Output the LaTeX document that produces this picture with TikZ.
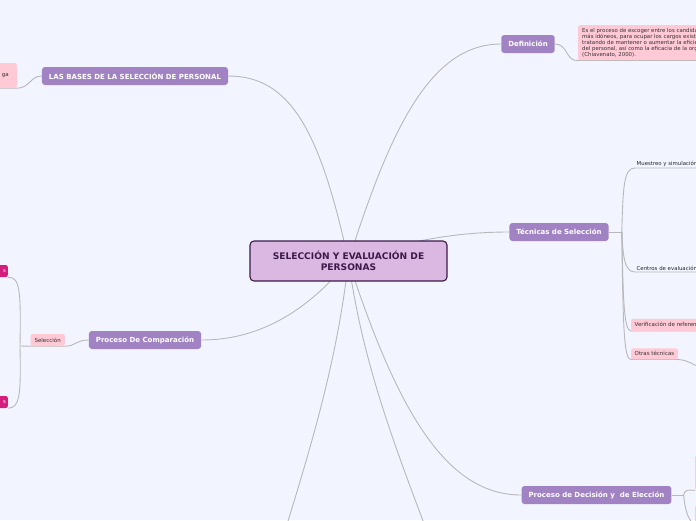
\documentclass[tikz,border=0pt]{standalone}
\usepackage{fontspec}
\setmainfont{DejaVu Sans}
\usetikzlibrary{positioning, backgrounds}

\definecolor{canvas}{RGB}{242,245,255}
\definecolor{topicfill}{RGB}{161,131,196}
\definecolor{rootfill}{RGB}{218,184,226}
\definecolor{rootline}{RGB}{60,26,74}
\definecolor{notefill}{RGB}{255,201,214}
\definecolor{tagfill}{RGB}{212,30,125}
\definecolor{wire}{RGB}{184,184,184}

\begin{document}
\begin{tikzpicture}[
    x=1pt, y=-1pt,
    root/.style  = {draw=rootline, line width=1.1pt, fill=rootfill, rounded corners=4pt,
                    align=center, text=rootline, font=\fontsize{9.1}{11}\selectfont\bfseries,
                    minimum width=197pt, minimum height=40pt},
    topic/.style = {fill=topicfill, rounded corners=3pt, text=white,
                    font=\fontsize{7}{8}\selectfont\bfseries, minimum height=18pt, inner xsep=7pt},
    note/.style  = {fill=notefill, rounded corners=2pt, text=black!80,
                    font=\fontsize{5.5}{6.5}\selectfont, minimum height=12pt, inner xsep=3.5pt, inner ysep=1pt},
    tag/.style   = {fill=tagfill, rounded corners=2pt, text=white,
                    font=\fontsize{5.3}{6.3}\selectfont, minimum height=12pt, inner xsep=2pt},
    leaf/.style  = {font=\fontsize{5.4}{6.4}\selectfont, text=black!85, inner sep=1.5pt},
    wire/.style  = {draw=wire, line width=0.9pt}
]
\useasboundingbox (0,0) rectangle (696,520);
\clip (0,0) rectangle (696,520);

%% ── Nodo central ────────────────────────────────────────────────────────────
\node[root] (root) at (348.5,261) {SELECCIÓN Y EVALUACIÓN DE\\PERSONAS};

%% ── Temas principales ───────────────────────────────────────────────────────
\node[topic] (bases) at (135,76)    {LAS BASES DE LA SELECCIÓN DE PERSONAL};
\node[topic] (def)   at (528,44)    {Definición};
\node[topic] (tec)   at (559,232)   {Técnicas de Selección};
\node[topic] (comp)  at (145,340)   {Proceso De Comparación};
\node[topic] (dec)   at (596.5,495) {Proceso de Decisión y \ de Elección};

%% ── Hijos (parcialmente fuera del lienzo) ───────────────────────────────────
\node[note, anchor=east, minimum height=25pt, inner xsep=8pt] (basesnote) at (17,75.5) {ga};

\node[note, anchor=north west, align=left, inner xsep=4pt, inner ysep=3.5pt,
      font=\fontsize{5.4}{5.8}\selectfont] (defnote) at (578,25)
     {Es el proceso de escoger entre los candidatos reclutados los\\
      más idóneos, para ocupar los cargos existentes en la empresa,\\
      tratando de mantener o aumentar la eficiencia y el desempeño\\
      del personal, así como la eficacia de la organización\\
      (Chiavenato, 2000).};

\coordinate (tecj) at ([xshift=13pt]tec.east);
\node[leaf, anchor=south west] (mue)    at (635,168) {Muestreo y simulación};
\node[leaf, anchor=south west] (cen)    at (635,272) {Centros de evaluación};
\node[note, anchor=south west] (ver)    at (631,331) {Verificación de referencias};
\node[note, anchor=south west, minimum height=11pt] (otras) at (631,359.5) {Otras técnicas};
\coordinate (otrasnext) at (712,371);

\node[note, anchor=east, inner xsep=4pt] (sel) at (65,340) {Selección};
\coordinate (selj) at (20,346);
\node[tag, anchor=east, text width=14pt, align=right] (tagA) at (8,271) {s};
\node[tag, anchor=east, text width=14pt, align=right] (tagB) at (8,402) {s};

\coordinate (decj) at ([xshift=12pt]dec.east);
\node[note, anchor=north west, minimum width=20pt, minimum height=35pt] (decA) at (695,455) {};
\node[note, anchor=north west, minimum width=20pt, minimum height=20pt] (decB) at (695,505) {};

\coordinate (lowA) at (270,580);
\coordinate (lowB) at (445,580);

%% ── Conectores ──────────────────────────────────────────────────────────────
\begin{scope}[on background layer]
  \clip (0,0) rectangle (696,520);
  \fill[canvas] (0,0) rectangle (696,520);

  \draw[wire] (root.center) .. controls (320,130) and (290,76) .. (bases.east);
  \draw[wire] (root.center) .. controls (390,130) and (430,44) .. (def.west);
  \draw[wire] (root.center) .. controls (400,243) and (450,232) .. (tec.west);
  \draw[wire] (root.center) .. controls (300,320) and (250,340) .. (comp.east);
  \draw[wire] (root.center) .. controls (400,420) and (450,495) .. (dec.west);
  \draw[wire] (root.center) .. controls (335,380) and (300,480) .. (lowA);
  \draw[wire] (root.center) .. controls (365,380) and (405,470) .. (lowB);

  \draw[wire] (bases.west) .. controls (30,76) and (30,88) .. (basesnote.south east)
              -- (basesnote.south west);
  \draw[wire] (def.east) .. controls (568,44) and (566,62) .. (defnote.south west)
              -- (defnote.south east);

  \draw[wire] (tec.east) -- (tecj);
  \draw[wire] (tecj) .. controls (623,185) and (624,168) .. (mue.south west) -- (mue.south east);
  \draw[wire] (tecj) .. controls (623,255) and (624,272) .. (cen.south west) -- (cen.south east);
  \draw[wire] (tecj) .. controls (623,300) and (624,331) .. (ver.south west) -- (ver.south east);
  \draw[wire] (tecj) .. controls (623,330) and (624,359.5) .. (otras.south west)
              -- (otras.south east) .. controls (690,360) and (692,366) .. (otrasnext);

  \draw[wire] (comp.west) .. controls (76,340) and (76,346) .. (sel.south east) -- (sel.south west) -- (selj);
  \draw[wire] (selj) .. controls (21,290) and (20,277) .. (tagA.south east);
  \draw[wire] (selj) .. controls (21,395) and (20,408) .. (tagB.south east);

  \draw[wire] (dec.east) -- (decj);
  \draw[wire] (decj) .. controls (685,489) and (688,490) .. (decA.south west);
  \draw[wire] (decj) .. controls (685,510) and (688,520) .. (decB.south west);
\end{scope}

\end{tikzpicture}
\end{document}
